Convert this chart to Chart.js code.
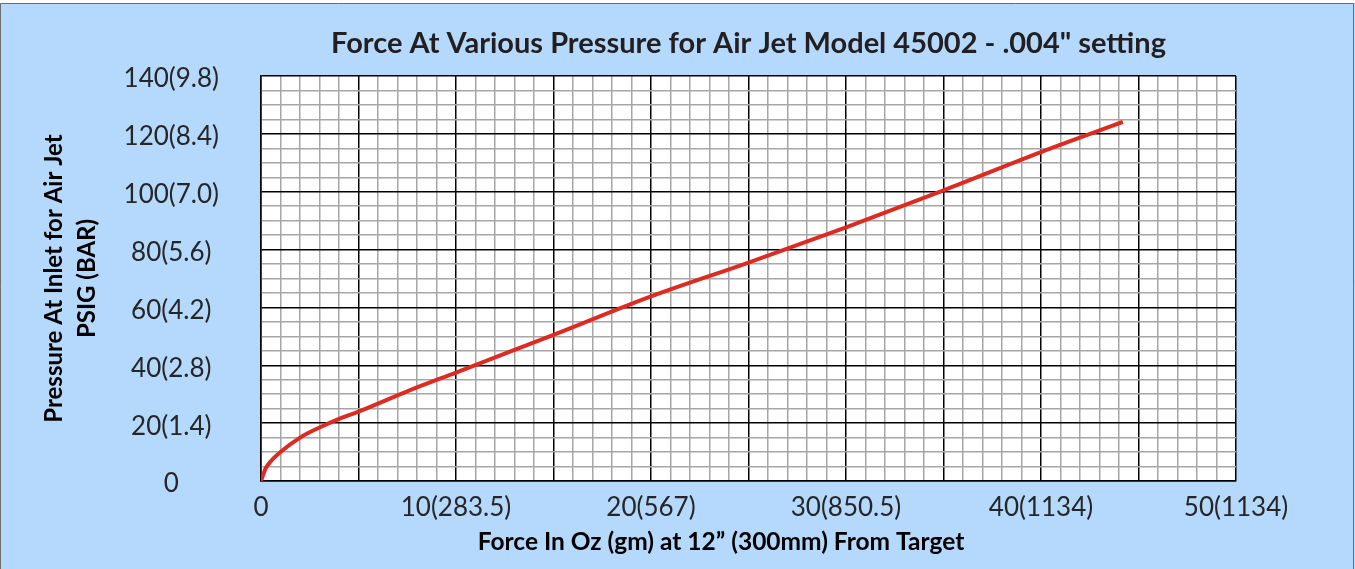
<!DOCTYPE html>
<html lang="en">
<head>
<meta charset="UTF-8">
<title>Air Jet Model 45002 - Force vs Pressure</title>
<script src="https://cdn.jsdelivr.net/npm/chart.js"></script>
<style>
  html, body { margin: 0; padding: 0; background: #fff; }
  .wrap { position: relative; width: 1355px; height: 569px; }
</style>
</head>
<body>
<div class="wrap">
  <canvas id="grafico"></canvas>
</div>

<script>
// data
const forceOz      = [0, 0.25, 0.5, 1, 2, 3, 4, 5, 7.5, 10, 12.5, 15, 20, 25, 30, 35, 40, 44.2];
const pressurePsig = [0, 4.5, 6.8, 10, 15, 18.5, 21.5, 24, 31, 37.5, 44, 50.5, 63.8, 75.5, 87.7, 100.5, 113.7, 124.1];

const xTickLabels = ['0', '10(283.5)', '20(567)', '30(850.5)', '40(1134)', '50(1134)'];
const yTickLabels = ['0', '20(1.4)', '40(2.8)', '60(4.2)', '80(5.6)', '100(7.0)', '120(8.4)', '140(9.8)'];

const chartTitle = 'Force At Various Pressure for Air Jet Model 45002 - .004" setting';
const xTitle = 'Force In Oz (gm) at 12\u201D (300mm) From Target';
const yTitle = ['Pressure At Inlet for Air Jet', 'PSIG (BAR)'];

const FONT = 'Lato, "Open Sans", sans-serif';

// light blue page + white plot + thin frame
const fundo = {
    id: 'fundo',
    beforeDraw(chart) {
        const ctx = chart.ctx, a = chart.chartArea;
        ctx.save();
        ctx.fillStyle = '#B4D9FC';
        ctx.fillRect(0, 0, chart.width, chart.height);
        ctx.fillStyle = '#ffffff';
        ctx.fillRect(0, 0, chart.width, 3);
        ctx.fillRect(a.left, a.top, a.right - a.left, a.bottom - a.top);
        ctx.strokeStyle = '#6d6d6d';
        ctx.lineWidth = 1;
        ctx.beginPath();
        ctx.moveTo(0.5, chart.height);
        ctx.lineTo(0.5, 3.5);
        ctx.lineTo(chart.width - 1.5, 3.5);
        ctx.lineTo(chart.width - 1.5, chart.height);
        ctx.stroke();
        ctx.restore();
    }
};

// x axis title, sits a bit left of the plot centre like the original
const tituloX = {
    id: 'tituloX',
    afterDraw(chart) {
        const ctx = chart.ctx;
        ctx.save();
        ctx.font = 'bold 24.5px ' + FONT;
        ctx.fillStyle = '#000';
        ctx.textAlign = 'center';
        ctx.textBaseline = 'middle';
        ctx.fillText(xTitle, 721, 542);
        ctx.restore();
    }
};

const pontos = forceOz.map((f, i) => ({ x: f, y: pressurePsig[i] }));

new Chart(document.getElementById('grafico'), {
    type: 'line',
    data: {
        datasets: [{
            data: pontos,
            borderColor: '#DF2A22',
            borderWidth: 4,
            pointRadius: 0,
            fill: false,
            cubicInterpolationMode: 'monotone'
        }]
    },
    options: {
        responsive: true,
        maintainAspectRatio: false,
        animation: false,
        layout: { padding: { left: 0, right: 119, top: 0, bottom: 0 } },
        plugins: {
            legend: { display: false },
            tooltip: { enabled: false },
            title: {
                display: true,
                text: chartTitle,
                fullSize: false,
                color: '#231F20',
                font: { family: FONT, size: 29, weight: 'bold', lineHeight: 1.2 },
                padding: { top: 26.6, bottom: 14.6 }
            }
        },
        scales: {
            x: {
                type: 'linear',
                min: 0, max: 50,
                afterFit(scale) { scale.height = 88; },
                border: { color: '#000', width: 1.5 },
                grid: {
                    drawTicks: false,
                    color: c => (c.tick && c.tick.value % 5 === 0) ? '#000' : '#A6A6A6',
                    lineWidth: 1.5
                },
                ticks: {
                    stepSize: 1,
                    autoSkip: false,
                    maxRotation: 0,
                    padding: 11,
                    color: '#262626',
                    font: { family: FONT, size: 26 },
                    callback: v => v % 10 === 0 ? xTickLabels[v / 10] : ''
                }
            },
            y: {
                type: 'linear',
                min: 0, max: 140,
                afterFit(scale) { scale.width = 261; },
                border: { color: '#000', width: 1.5 },
                grid: {
                    drawTicks: false,
                    color: c => (c.tick && c.tick.value % 20 === 0) ? '#000' : '#A6A6A6',
                    lineWidth: 1.5
                },
                ticks: {
                    stepSize: 5,
                    autoSkip: false,
                    padding: 42,
                    labelOffset: 3,
                    crossAlign: 'center',
                    color: '#262626',
                    font: { family: FONT, size: 26 },
                    callback: v => v % 20 === 0 ? yTickLabels[v / 20] : ''
                },
                title: {
                    display: true,
                    text: yTitle,
                    color: '#000',
                    font: { family: FONT, size: 24, weight: 'bold', lineHeight: '33px' },
                    padding: { top: 37.5, bottom: 0 }
                }
            }
        }
    },
    plugins: [fundo, tituloX]
});
</script>
</body>
</html>
